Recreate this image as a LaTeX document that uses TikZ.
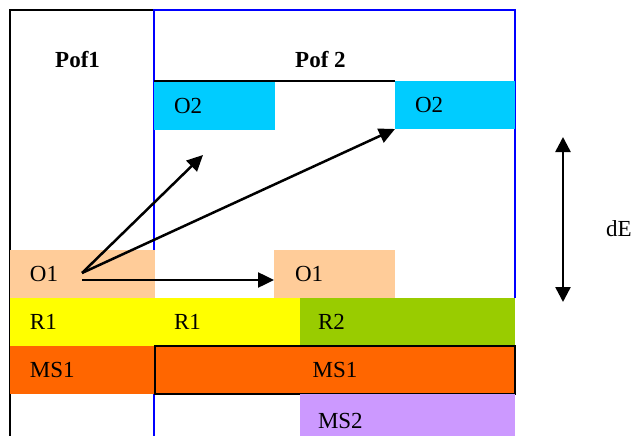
\documentclass[tikz,border=0pt]{standalone}
\usepackage{fontspec}
\setmainfont{Liberation Serif}
\usetikzlibrary{arrows.meta}
\definecolor{skyc}{HTML}{00CCFF}
\definecolor{peach}{HTML}{FFCC99}
\definecolor{lemon}{HTML}{FFFF00}
\definecolor{leaf}{HTML}{99CC00}
\definecolor{rust}{HTML}{FF6600}
\definecolor{lilac}{HTML}{CC99FF}
\definecolor{pofblue}{HTML}{0000FF}
\tikzset{
  cell/.style={anchor=north west, inner ysep=0pt, inner xsep=20pt, outer sep=0pt,
    minimum height=48pt, align=left, font=\fontsize{23}{27}\selectfont},
  title/.style={anchor=base west, inner sep=0pt, font=\fontsize{23}{27}\selectfont\bfseries},
  frame/.style={line width=2.2pt},
  tip/.style={},
  arr/.style={line width=2.5pt, -{Triangle[length=16pt,width=15pt]}},
  darr/.style={line width=2.5pt, {Triangle[length=15pt,width=15pt]}-{Triangle[length=15pt,width=15pt]}}
}
\begin{document}
\begin{tikzpicture}[x=1pt,y=-1pt]
\clip (0,0) rectangle (635,436);
\fill[white] (0,0) rectangle (635,436);

% column frames
\draw[frame, black] (10,436) -- (10,10) -- (154,10);
\draw[frame, pofblue] (154,436) -- (154,10) -- (515,10) -- (515,298);
\draw[frame, black] (154,81) -- (395,81);

% headers
\node[title] (pof1) at (55,68) {Pof1};
\node[title] (pof2) at (295,68) {Pof 2};

% O2 cells
\node[cell, fill=skyc, text width=81pt] (o2l) at (154,82) {O2};
\node[cell, fill=skyc, text width=80pt] (o2r) at (395,81) {O2};

% O1 cells
\node[cell, fill=peach, text width=105pt] (o1l) at (10,250) {O1};
\node[cell, fill=peach, inner xsep=21pt, text width=79pt] (o1r) at (274,250) {O1};

% R cells
\node[cell, fill=lemon, text width=105pt] (r1a) at (10,298) {R1};
\node[cell, fill=lemon, inner xsep=19pt, text width=107pt] (r1b) at (155,298) {R1};
\node[cell, fill=leaf, inner xsep=18pt, text width=179pt] (r2) at (300,298) {R2};

% MS cells
\node[cell, fill=rust, text width=105pt] (ms1a) at (10,346) {MS1};
\node[cell, fill=rust, align=center, inner xsep=0pt, text width=360pt] (ms1b) at (155,346) {MS1};
\draw[frame, black] (ms1b.north west) rectangle (ms1b.south east);
\node[cell, fill=lilac, inner xsep=18pt, text width=179pt, minimum height=54pt] (ms2) at (300,394) {MS2};

% transitions out of O1
\coordinate (s1) at (82,273);
\coordinate (s2) at (82,280);
\coordinate (t1) at (203,155);
\draw[arr] (s1) -- (t1);
\draw[arr] (s1) -- (o2r.south west);
\draw[arr] (s2) -- (o1r.west |- s2);

% dE span
\coordinate (dtop) at (563,137);
\coordinate (dbot) at (563,302);
\draw[darr] (dbot) -- (dtop);
\node[anchor=base west, inner sep=0pt, font=\fontsize{23}{27}\selectfont] (de) at (606,236) {dE};
\end{tikzpicture}
\end{document}
